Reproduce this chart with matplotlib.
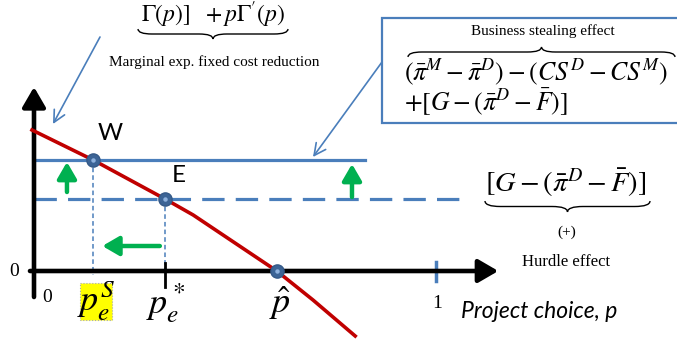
import numpy as np
import matplotlib.pyplot as plt
from matplotlib.path import Path
from matplotlib.patches import PathPatch, Rectangle
from matplotlib.transforms import Affine2D

# ─── Data (project choice p on x, marginal value on y) ───────────────────
P_CURVE = [-0.005, 0.147, 0.326, 0.396, 0.604, 0.694, 0.799]
V_CURVE = [1.41, 1.11, 0.72, 0.56, 0.0, -0.29, -0.65]

V_WELFARE = 1.11           # solid blue level
V_HURDLE = 0.72            # dashed blue level (hurdle)
SOLID_SPAN = [0.007, 0.823]
DASH_SPAN = [0.0, 1.085]

POINT_P = [0.147, 0.326, 0.604]   # W, E, p-hat
POINT_V = [1.11, 0.72, 0.0]
P_W, P_E, P_HAT = POINT_P

# ─── Layout ──────────────────────────────────────────────────────────────
W, H = 677, 343
X0, PPX = 34, 402     # pixel of p=0, pixels per unit p
Y0, PPY = 271, 100    # pixel of v=0, pixels per unit v
BLUE = "#4A7EBB"
RED = "#C00000"
GREEN = "#00B050"
DOT = "#3C6496"

plt.rcParams["mathtext.fontset"] = "stix"
plt.rcParams["font.family"] = ["Liberation Serif", "DejaVu Sans"]

fig = plt.figure(figsize=(W / 100, H / 100), dpi=100)
ax = fig.add_axes([0, 0, 1, 1])
ax.set_xlim(-X0 / PPX, (W - X0) / PPX)
ax.set_ylim(-(H - Y0) / PPY, Y0 / PPY)
ax.set_axis_off()

# top-left pixel coordinates for the annotation layer
px = Affine2D().scale(1, -1).translate(0, H)


def brace(x0, x1, y, d, up=False, lw=1.0):
    s = -1 if up else 1
    xm = (x0 + x1) / 2
    r = min(d * 1.4, (x1 - x0) / 4)
    ym = y + s * d / 2
    verts = [(x0, y), (x0, ym), (x0 + r, ym), (xm - r, ym), (xm, ym), (xm, y + s * d),
             (xm, ym), (xm + r, ym), (x1 - r, ym), (x1, ym), (x1, y)]
    codes = [Path.MOVETO, Path.CURVE3, Path.CURVE3, Path.LINETO, Path.CURVE3, Path.CURVE3,
             Path.CURVE3, Path.CURVE3, Path.LINETO, Path.CURVE3, Path.CURVE3]
    ax.add_patch(PathPatch(Path(verts, codes), transform=px, fill=False, lw=lw,
                           color="black", clip_on=False))


# axes
axis_kw = dict(arrowstyle="-|>,head_length=0.55,head_width=0.32", lw=3.3,
               color="black", mutation_scale=22, shrinkA=0, shrinkB=0)
ax.annotate("", xy=(0, 1.84), xytext=(0, -0.26), arrowprops=axis_kw)
ax.annotate("", xy=(1.155, 0), xytext=(-0.01, 0), arrowprops=axis_kw)

# horizontal levels
ax.plot(SOLID_SPAN, [V_WELFARE] * 2, color=BLUE, lw=2.3, zorder=2)
ax.plot(DASH_SPAN, [V_HURDLE] * 2, color=BLUE, lw=2.3, dashes=(7, 3.5), zorder=2)

# drop lines
ax.plot([P_W, P_W], [V_WELFARE, -0.04], color=BLUE, lw=1.1, dashes=(3, 2))
ax.plot([P_E, P_E], [V_HURDLE, 0], color=BLUE, lw=1.1, dashes=(3, 2))

# curve
ax.plot(P_CURVE, V_CURVE, color=RED, lw=2.6, zorder=3)

# ticks
ax.plot([P_E, P_E], [0.08, -0.16], color="black", lw=2.0)
ax.plot([1, 1], [0.09, -0.10], color=BLUE, lw=2.5)

# points
ax.plot(POINT_P, POINT_V, "o", ms=9.5, color=DOT, mec="#355a88", zorder=5)
ax.plot(POINT_P, POINT_V, "o", ms=2.2, color="#8fb2de", zorder=6)

# green arrows
g_kw = dict(arrowstyle="-|>,head_length=0.55,head_width=0.32", lw=3.2, color=GREEN,
            mutation_scale=18, shrinkA=0, shrinkB=0)
ax.annotate("", xy=(0.082, 1.09), xytext=(0.082, 0.79), arrowprops=g_kw)
ax.annotate("", xy=(0.791, 1.07), xytext=(0.791, 0.74), arrowprops=g_kw)
ax.annotate("", xy=(0.170, 0.25), xytext=(0.313, 0.25), arrowprops=g_kw)

# point labels
ax.text(110, 133, "W", transform=px, fontsize=17.5, family="Lato", ha="center", va="center")
ax.text(179, 176, "E", transform=px, fontsize=17.5, family="Lato", ha="center", va="center")

# axis labels
ax.text(14, 271, "0", transform=px, fontsize=14, ha="center", va="center")
ax.text(47, 298, "0", transform=px, fontsize=14, ha="center", va="center")
ax.add_patch(Rectangle((80, 283), 32, 37, transform=px, facecolor="yellow",
                       edgecolor="#aaaaaa", lw=0.8, ls=":", clip_on=False, zorder=1))
ax.text(96, 301, r"$p_e^S$", transform=px, fontsize=26, ha="center", va="center", zorder=2)
ax.text(166, 303, r"$p_e^*$", transform=px, fontsize=26, ha="center", va="center")
ax.text(280, 303, r"$\hat{p}$", transform=px, fontsize=26, ha="center", va="center")
ax.text(437, 303, "1", transform=px, fontsize=14, ha="center", va="center")
ax.text(461, 312, "Project choice, p", transform=px, fontsize=16.5, family="Lato",
        style="italic", ha="left", va="center")

# top-left: marginal expected fixed cost reduction
ax.text(213, 15, r"$\Gamma(p)]\ \ +p\Gamma'(p)$", transform=px, fontsize=17,
        ha="center", va="center")
brace(138, 288, 29, 10)
ax.text(214, 62, "Marginal exp. fixed cost reduction", transform=px, fontsize=11,
        ha="center", va="center")
ax.annotate("", xy=(53, 124), xycoords=px, xytext=(100, 37), textcoords=px,
            arrowprops=dict(arrowstyle="->,head_length=0.6,head_width=0.3", lw=1.2,
                            color=BLUE, mutation_scale=14, shrinkA=0, shrinkB=0))

# business stealing box
ax.add_patch(Rectangle((382, 18), 310, 105, transform=px, facecolor="white",
                       edgecolor=BLUE, lw=1.6, clip_on=False, zorder=1))
ax.text(543, 31, "Business stealing effect", transform=px, fontsize=11,
        ha="center", va="center", zorder=2)
brace(408, 675, 57, 10, up=True)
ax.text(404, 72, r"$(\bar{\pi}^M-\bar{\pi}^D)-(CS^D-CS^M)$", transform=px,
        fontsize=18.5, ha="left", va="center", zorder=2)
ax.text(404, 102, r"$+[G-(\bar{\pi}^D-\bar{F})]$", transform=px,
        fontsize=18.5, ha="left", va="center", zorder=2)
ax.annotate("", xy=(313, 157), xycoords=px, xytext=(382, 62), textcoords=px,
            arrowprops=dict(arrowstyle="->,head_length=0.6,head_width=0.3", lw=1.2,
                            color=BLUE, mutation_scale=14, shrinkA=0, shrinkB=0))

# hurdle effect
ax.text(566, 183, r"$[G-(\bar{\pi}^D-\bar{F})]$", transform=px, fontsize=20.5,
        ha="center", va="center")
brace(485, 650, 201, 11)
ax.text(567, 232, "(+)", transform=px, fontsize=11, ha="center", va="center")
ax.text(566, 262, "Hurdle effect", transform=px, fontsize=12, ha="center", va="center")

fig.savefig("out.png", dpi=100)
